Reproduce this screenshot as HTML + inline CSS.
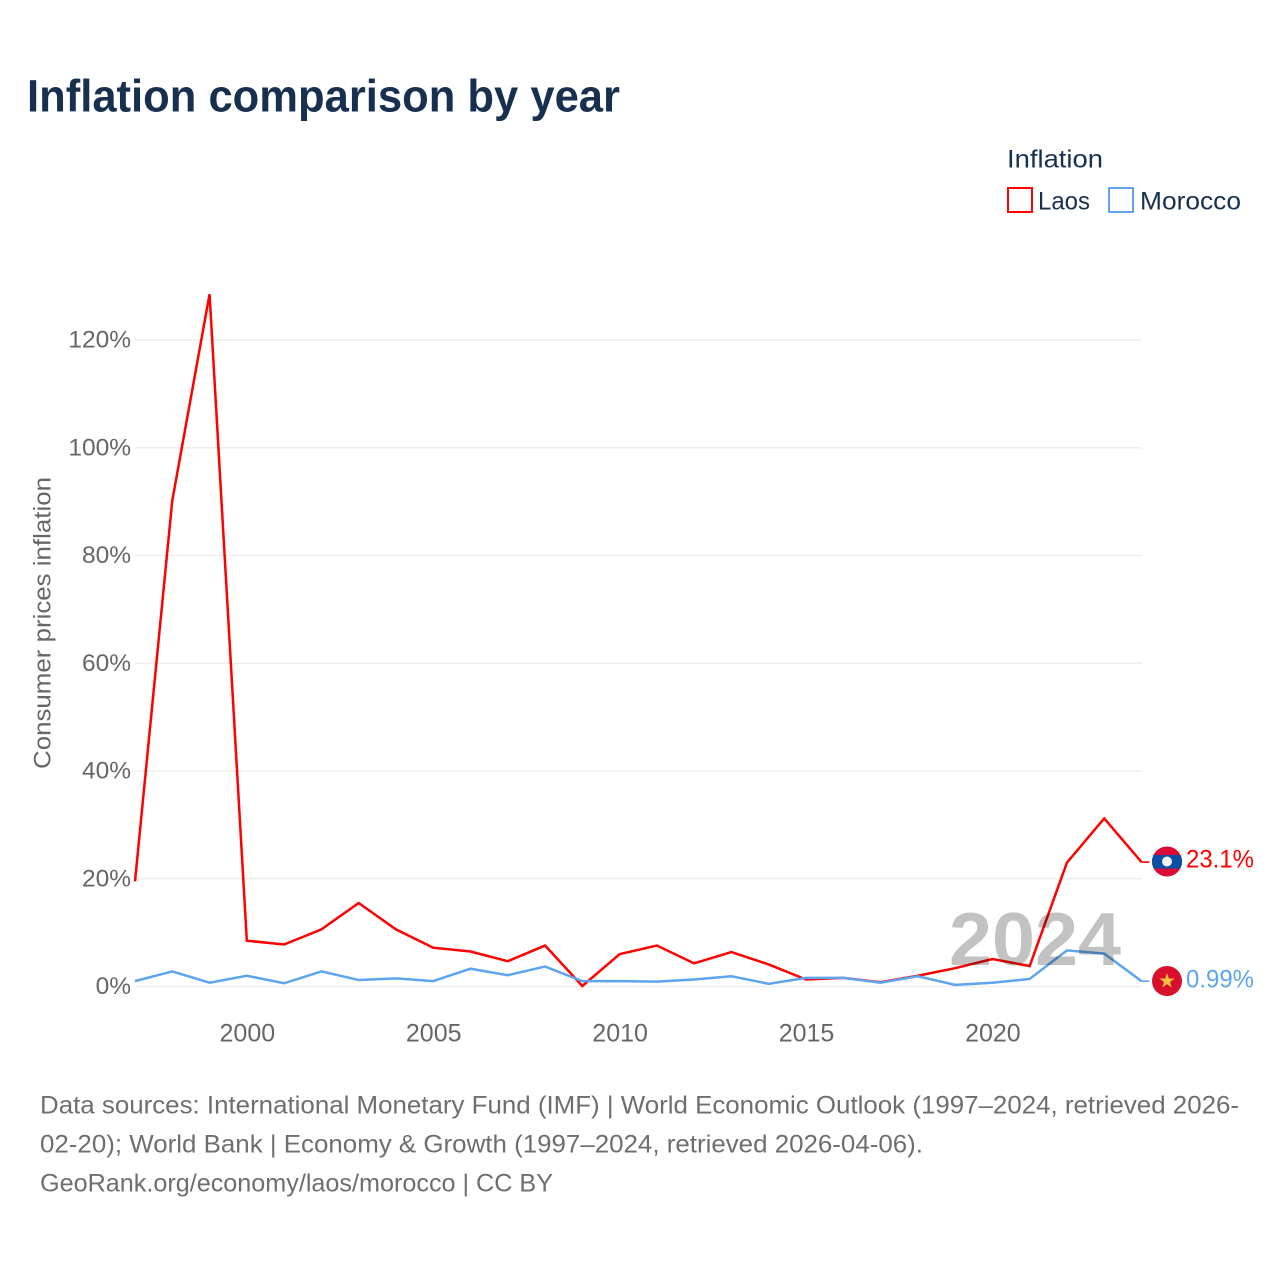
<!DOCTYPE html>
<html lang="en">
<head>
<meta charset="utf-8">
<title>Inflation comparison by year</title>
<style>
html,body{margin:0;padding:0;background:#fff;width:1280px;height:1280px;overflow:hidden}
svg{display:block}
text{font-family:"Liberation Sans",sans-serif}
</style>
</head>
<body>
<svg id="chart" xmlns="http://www.w3.org/2000/svg" width="1280" height="1280" viewBox="0 0 1280 1280">
  <rect x="0" y="0" width="1280" height="1280" fill="#ffffff"/>
  <text x="27" y="111.5" font-size="45" font-weight="700" fill="#18304f" textLength="593" lengthAdjust="spacingAndGlyphs">Inflation comparison by year</text>

  <g>
    <text x="1007" y="167.5" font-size="25" fill="#18304f" textLength="96" lengthAdjust="spacingAndGlyphs">Inflation</text>
    <rect x="1008" y="188" width="24" height="24" fill="#ffffff" stroke="#ff0000" stroke-width="2"/>
    <text x="1038" y="209.5" font-size="25" fill="#18304f" textLength="52" lengthAdjust="spacingAndGlyphs">Laos</text>
    <rect x="1109" y="188" width="24" height="24" fill="#ffffff" stroke="#5da5ee" stroke-width="2"/>
    <text x="1140" y="209.5" font-size="25" fill="#18304f" textLength="101" lengthAdjust="spacingAndGlyphs">Morocco</text>
  </g>

  <g id="grid"></g>
  <g id="yticks"></g>
  <g id="xticks"></g>
  <text transform="translate(50.5,769) rotate(-90)" x="0" y="0" font-size="24" fill="#666666" textLength="292" lengthAdjust="spacingAndGlyphs">Consumer prices inflation</text>

  <text x="1121" y="965" font-size="75" font-weight="700" fill="#c2c2c2" text-anchor="end" textLength="172" lengthAdjust="spacingAndGlyphs">2024</text>

  <g id="series" style="mix-blend-mode:multiply"></g>

  <g id="end-laos">
    <clipPath id="flag-clip-laos"><circle id="laos-clip-circle" cx="1167" cy="861.5" r="15"/></clipPath>
    <g id="flag-laos" clip-path="url(#flag-clip-laos)">
      <rect x="1150" y="845" width="34" height="34" fill="#dc0a35"/>
      <rect x="1150" y="855" width="34" height="13.5" fill="#0a4fa6"/>
      <circle cx="1167" cy="861.5" r="5" fill="#f2f2f2"/>
    </g>
    <text id="label-laos" x="1186" y="867.5" font-size="25" fill="#ff0000" textLength="68" lengthAdjust="spacingAndGlyphs">23.1%</text>
  </g>
  <g id="end-morocco">
    <circle cx="1167" cy="981" r="15" fill="#d80f2d"/>
    <polygon points="1167,973 1168.8,978.5 1174.6,978.5 1170,982 1171.7,987.5 1167,984.1 1162.3,987.5 1164,982 1159.4,978.5 1165.2,978.5" fill="#f5c33b"/>
    <text id="label-morocco" x="1186" y="987.5" font-size="25" fill="#5da5ee" textLength="68" lengthAdjust="spacingAndGlyphs">0.99%</text>
  </g>

  <g font-size="25" fill="#6e6e6e">
    <text x="40" y="1113.5" textLength="1199" lengthAdjust="spacingAndGlyphs">Data sources: International Monetary Fund (IMF) | World Economic Outlook (1997–2024, retrieved 2026-</text>
    <text x="40" y="1152.5" textLength="883" lengthAdjust="spacingAndGlyphs">02-20); World Bank | Economy &amp; Growth (1997–2024, retrieved 2026-04-06).</text>
    <text x="40" y="1191.5" textLength="513" lengthAdjust="spacingAndGlyphs">GeoRank.org/economy/laos/morocco | CC BY</text>
  </g>
</svg>
<script>
const years = [1997,1998,1999,2000,2001,2002,2003,2004,2005,2006,2007,2008,2009,2010,2011,2012,2013,2014,2015,2016,2017,2018,2019,2020,2021,2022,2023,2024];
const laosValues = [19.5,90.2,128.5,8.5,7.8,10.6,15.5,10.6,7.2,6.5,4.7,7.6,0.1,6.0,7.6,4.3,6.4,4.1,1.3,1.6,0.8,2.0,3.4,5.1,3.8,23.0,31.2,23.1];
const moroccoValues = [1.0,2.8,0.7,2.0,0.6,2.8,1.2,1.5,1.0,3.3,2.1,3.7,1.0,1.0,0.9,1.3,1.9,0.5,1.6,1.6,0.7,1.9,0.3,0.7,1.4,6.7,6.1,0.99];
const yTickValues = [0,20,40,60,80,100,120];
const yTickLabels = ["0%","20%","40%","60%","80%","100%","120%"];
const xTickValues = [2000,2005,2010,2015,2020];
const xTickLabels = ["2000","2005","2010","2015","2020"];

const NS = "http://www.w3.org/2000/svg";
function xScale(year){ return 135 + (year - 1997) * (1141.5 - 135) / 27; }
function yScale(v){ return 986.5 - v * (986.5 - 340) / 120; }
function make(tag, attrs, parent){
  const el = document.createElementNS(NS, tag);
  for (const k in attrs) el.setAttribute(k, attrs[k]);
  parent.appendChild(el);
  return el;
}

const grid = document.getElementById("grid");
const yticks = document.getElementById("yticks");
yTickValues.forEach(function(v, i){
  const line = make("line", {x1:135, x2:1141.5, y1:yScale(v), y2:yScale(v), stroke:"#eeeeee", "stroke-width":1.6}, grid);
  
  
  const t = make("text", {x:131, y:yScale(v)+7.5, "font-size":24.5, fill:"#666666", "text-anchor":"end"}, yticks);
  
  
  t.textContent = yTickLabels[i];
});

const xticks = document.getElementById("xticks");
xTickValues.forEach(function(y, i){
  const t = make("text", {x:xScale(y)+0.5, y:1041.5, "font-size":25, fill:"#666666", "text-anchor":"middle"}, xticks);
  
  
  t.textContent = xTickLabels[i];
});

const series = document.getElementById("series");
function drawSeries(values, color, name){
  const pts = values.map(function(v, i){ return xScale(years[i]).toFixed(2) + "," + yScale(v).toFixed(2); });
  const p = make("polyline", {points:pts.join(" "), fill:"none", stroke:color, "stroke-width":2.5, "stroke-linejoin":"miter"}, series);
  
  
  const last = values[values.length - 1];
  const ly = yScale(last);
  const lx = xScale(years[years.length - 1]);
  const c = make("line", {x1:lx, x2:lx + 8, y1:ly, y2:ly, stroke:color, "stroke-width":1.6}, series);
  
  
}
drawSeries(laosValues, "#ff0000", "line-laos");
drawSeries(moroccoValues, "#5da5ee", "line-morocco");
</script>
</body>
</html>
